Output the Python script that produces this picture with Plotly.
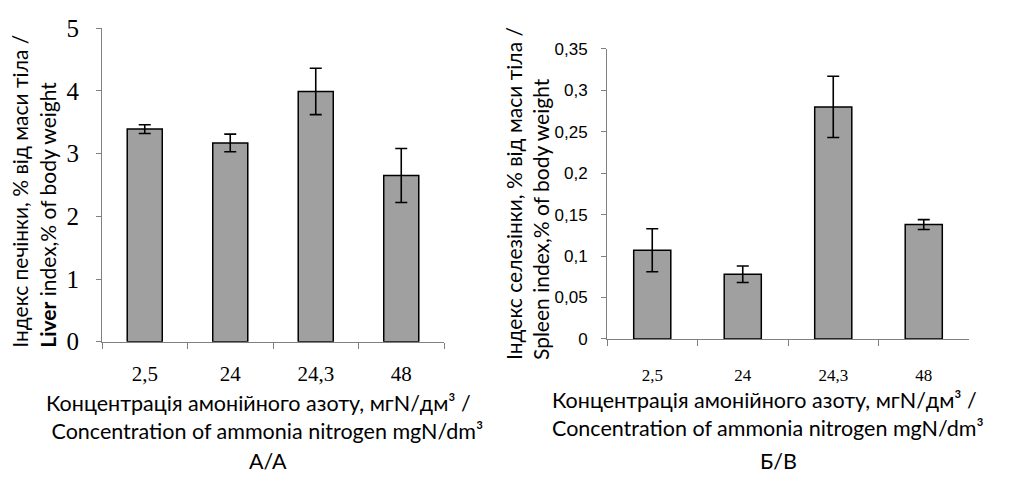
import plotly.graph_objects as go

categories = ["2,5", "24", "24,3", "48"]
liver_values = [3.39, 3.17, 3.99, 2.65]
liver_errors = [0.07, 0.14, 0.37, 0.43]
spleen_values = [0.107, 0.078, 0.280, 0.138]
spleen_errors = [0.026, 0.010, 0.037, 0.006]

liver_ticks = [0, 1, 2, 3, 4, 5]
spleen_ticks = [0, 0.05, 0.1, 0.15, 0.2, 0.25, 0.3, 0.35]
spleen_ticktext = ["0", "0,05", "0,1", "0,15", "0,2", "0,25", "0,3", "0,35"]

W, H = 1011, 488
BAR = "#A0A0A0"
AX = "#808080"

def px(x):
    return x / W

def py(y):
    return 1 - y / H

fig = go.Figure()
fig.add_trace(go.Bar(
    x=categories, y=liver_values, xaxis="x", yaxis="y",
    marker=dict(color=BAR, line=dict(color="black", width=1.5)),
    error_y=dict(type="data", array=liver_errors, color="black", thickness=1.6, width=6),
    width=0.41, showlegend=False,
))
fig.add_trace(go.Bar(
    x=categories, y=spleen_values, xaxis="x2", yaxis="y2",
    marker=dict(color=BAR, line=dict(color="black", width=1.5)),
    error_y=dict(type="data", array=spleen_errors, color="black", thickness=1.6, width=6),
    width=0.41, showlegend=False,
))

common_x = dict(type="category", showline=True, linecolor=AX, linewidth=1,
                ticks="outside", ticklen=6, tickcolor=AX, tickson="boundaries",
                showgrid=False, zeroline=False, fixedrange=True)
common_y = dict(showline=True, linecolor=AX, linewidth=1, ticks="outside",
                ticklen=5, tickcolor=AX, showgrid=False, zeroline=False)

fig.update_layout(
    width=W, height=H,
    margin=dict(l=0, r=0, t=0, b=0),
    paper_bgcolor="white", plot_bgcolor="white",
    bargap=0.59,
    xaxis=dict(common_x, domain=[px(102), px(444)], anchor="y",
               tickfont=dict(family="Liberation Serif", size=21, color="black"),
               ticklabelstandoff=13),
    yaxis=dict(common_y, domain=[py(348), py(16)], anchor="x", range=[0, 5],
               tickvals=liver_ticks,
               tickfont=dict(family="Liberation Serif", size=25, color="black"),
               ticklabelstandoff=12),
    xaxis2=dict(common_x, domain=[px(607), px(969)], anchor="y2",
                tickfont=dict(family="Liberation Serif", size=17, color="black"),
                ticklabelstandoff=21),
    yaxis2=dict(common_y, domain=[py(345), py(38)], anchor="x2", range=[0, 0.35],
                tickvals=spleen_ticks, ticktext=spleen_ticktext,
                tickfont=dict(family="Liberation Sans", size=17, color="black"),
                ticklabelstandoff=10),
)

ytitle_font = dict(family="Lato", size=21, color="black")
xtitle_font = dict(family="Lato", size=21.5, color="black")
ann = [
    dict(text="Індекс печінки, % від маси тіла /<br><b>Liver</b> index,% of body weight",
         x=px(33), y=py(357), xanchor="center", yanchor="bottom", textangle=-90,
         align="left", font=ytitle_font),
    dict(text="Індекс селезінки, % від маси тіла /<br>Spleen index,% of body weight",
         x=px(527), y=py(370), xanchor="center", yanchor="bottom", textangle=-90,
         align="left", font=ytitle_font),
    dict(text="Концентрація амонійного азоту, мгN/дм³ /<br> Concentration of ammonia nitrogen mgN/dm³",
         x=px(44), y=py(428), xanchor="left", yanchor="middle", align="left",
         font=xtitle_font),
    dict(text="Концентрація амонійного азоту, мгN/дм³ /<br>Concentration of ammonia nitrogen mgN/dm³",
         x=px(550), y=py(425), xanchor="left", yanchor="middle", align="left",
         font=xtitle_font),
    dict(text="А/А", x=px(268), y=py(474), xanchor="center", yanchor="middle",
         font=xtitle_font),
    dict(text="Б/В", x=px(778), y=py(474), xanchor="center", yanchor="middle",
         font=xtitle_font),
]
for a in ann:
    a.update(xref="paper", yref="paper", showarrow=False)
fig.update_layout(annotations=ann)

fig.write_html("out.html")
